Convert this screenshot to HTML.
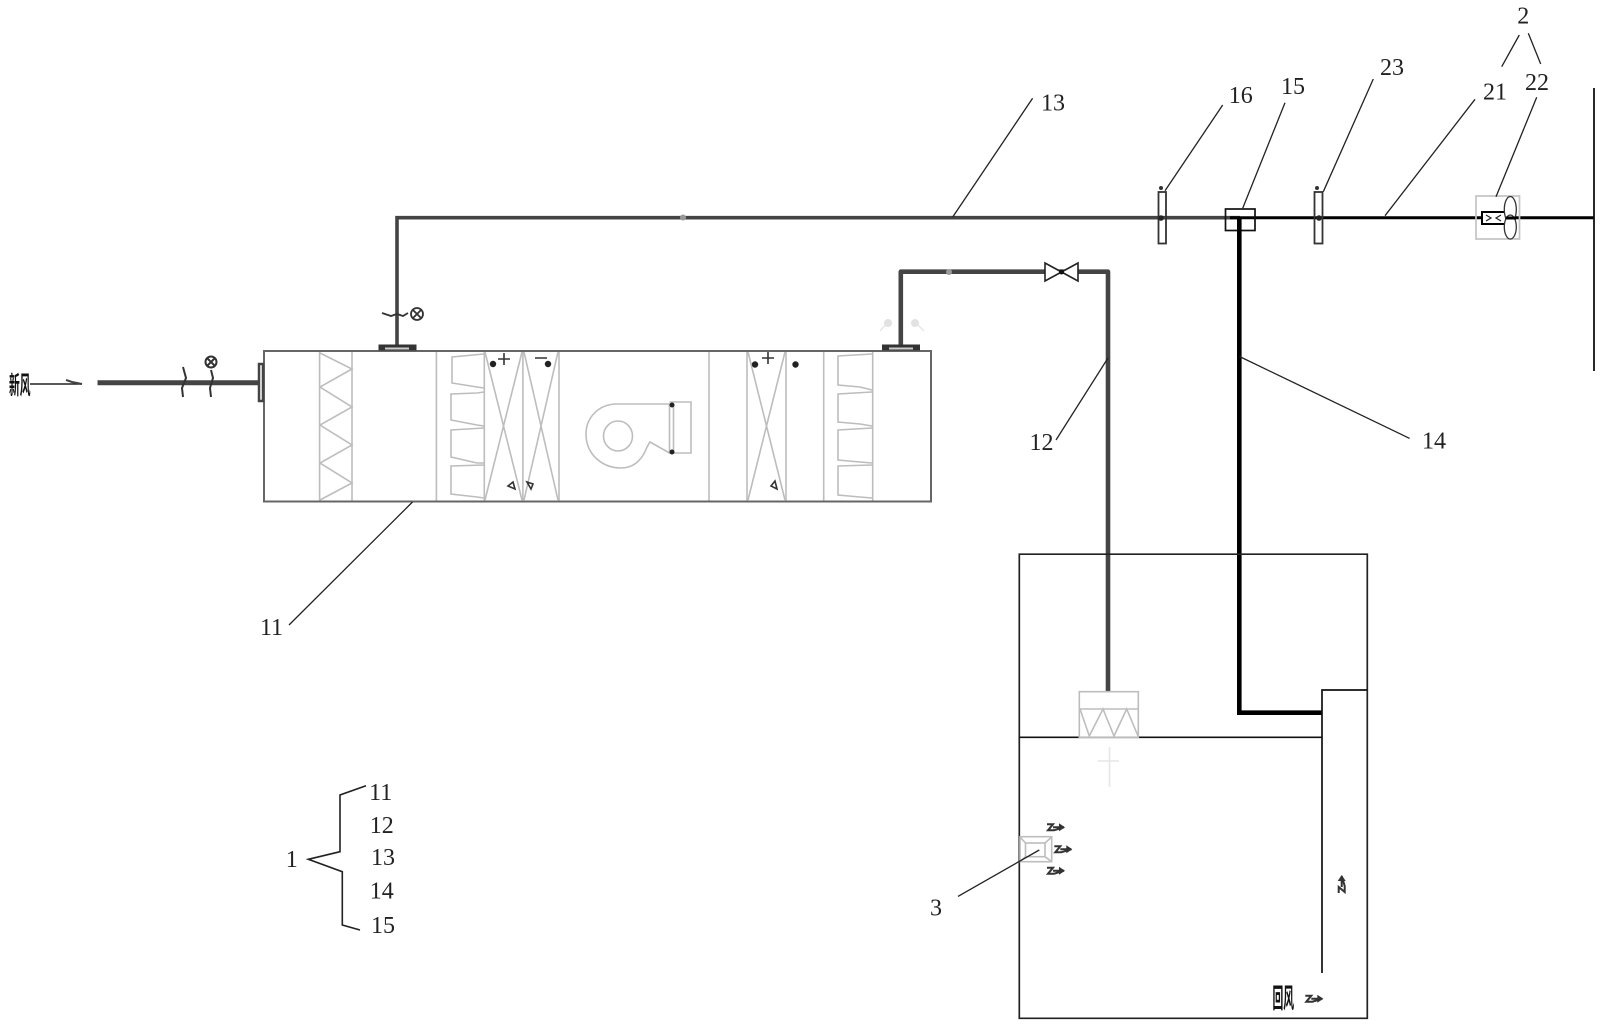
<!DOCTYPE html>
<html><head><meta charset="utf-8"><style>
html,body{margin:0;padding:0;background:#fff;width:1606px;height:1030px;overflow:hidden}
svg{display:block}
.t{font-family:"Liberation Serif",serif;font-size:24px;fill:#222;text-anchor:middle;dominant-baseline:central}
.c{font-family:"Noto Sans CJK SC","WenQuanYi Zen Hei",sans-serif;fill:#111;font-weight:700}
</style></head><body>
<svg width="1606" height="1030" viewBox="0 0 1606 1030" xmlns="http://www.w3.org/2000/svg">
<rect width="1606" height="1030" fill="#fff"/>
<defs>
<g id="ar"><path d="M-9,-3 L-3,-3 L-8,3 L-2,3 L8,0 M-3,0 L8,0" fill="none" stroke="#333" stroke-width="2"/><path d="M3,-4 L9,0 L3,4 Z" fill="#333"/></g>
</defs>
<!-- ghost marks -->
<g fill="none" stroke="#e6e6e6" stroke-width="1.5">
<path d="M880,331 L888,322 M924,331 L915,322"/>
<path d="M1109.5,747 V787 M1098,761 H1119"/>
</g>
<circle cx="888" cy="323" r="4" fill="#e2e2e2"/><circle cx="915" cy="323" r="4" fill="#e2e2e2"/>
<!-- AHU internals -->
<g fill="none" stroke="#bdbdbd" stroke-width="1.6">
<path d="M319.6,351 V501 M352,351 V501 M436.4,351 V501 M484.3,351 V501 M522.9,351 V501 M559,351 V501 M709,351 V501 M747,351 V501 M786,351 V501 M823.7,351 V501 M872.7,351 V501"/>
<path d="M320,353 L352,369 L320,387 L352,407 L320,425 L352,445 L320,463 L352,483 L320,500"/>
<path d="M484,354 L452,357 V383 L477,387 L484,388 M484,392 L477,393 L451,394 V420 L477,425 L484,426 M484,428 L451,430 V457 L477,463 L484,463 M484,465 L451,466 V494 L477,497 L484,498"/>
<path d="M485,352 L522,500 M522,352 L485,500 M524,352 L558,500 M558,352 L524,500 M748,352 L785,500 M785,352 L748,500"/>
<path d="M872,354 L838,356 V385 L860,387 L872,390 M872,392 L838,394 V422 L860,424 L872,426 M872,428 L838,430 V460 L860,462 L872,463 M872,465 L838,466 V495 L860,497 L872,498"/>
<path d="M669.5,404 H615 C598,405 586,418 586,434 C586,455 603,468 621,468 C635,468 643,458 647,447 L650,442 L669.5,453 Z"/>
<ellipse cx="618" cy="436" rx="14.5" ry="15"/>
<path d="M669.5,402 H691 V453 H669.5 M673.5,404 V452"/>
</g>
<!-- AHU frame -->
<rect x="264" y="351" width="667" height="150.5" fill="none" stroke="#666" stroke-width="2"/>
<!-- AHU symbols -->
<g stroke="#333" stroke-width="1.6" fill="none">
<path d="M504,353 V365 M498,359 H510 M535,358 H547 M762,358 H774 M768,352 V364"/>
<path d="M508,486 L513,482 L515,489 Z M527,482 L533,484 L531,489 Z M771,486 L775,481 L777,489 Z"/>
</g>
<g fill="#222">
<circle cx="493" cy="364" r="3.2"/><circle cx="548" cy="364" r="3.2"/><circle cx="755" cy="364.5" r="3.2"/><circle cx="795.5" cy="364.5" r="3.2"/>
<circle cx="672" cy="405" r="2.5"/><circle cx="672" cy="452" r="2.5"/>
</g>
<!-- inlet -->
<path d="M97.5,382.7 H258" stroke="#444" stroke-width="5" fill="none"/>
<path d="M259,364 H263 V401 H259 Z" fill="#fff" stroke="#444" stroke-width="2.5"/>
<g stroke="#333" stroke-width="2" fill="none">
<path d="M183,367 L186,378 L182,388 L183,397 M211,370 L213,378 L210,388 L211,397"/>
<circle cx="211" cy="362" r="5.5"/><path d="M207.5,358.5 L214.5,365.5 M214.5,358.5 L207.5,365.5"/>
<path d="M30,384 H82" stroke="#222" stroke-width="1.5"/>
<path d="M66,380 L72,382 L82,384" stroke="#444"/>
</g>
<text class="c" font-size="25" transform="translate(9,394) scale(.43,1)">新风</text>
<!-- supply pipe 13 -->
<path d="M397,345 V217.7 H1240" fill="none" stroke="#444" stroke-width="3.6"/>
<path d="M1230,217.7 H1594" fill="none" stroke="#000" stroke-width="3"/>
<circle cx="683" cy="217.5" r="3" fill="#999"/>
<rect x="378.5" y="344.5" width="38" height="6" fill="#333"/><rect x="385" y="347.5" width="24" height="2" fill="#ccc"/>
<g stroke="#333" stroke-width="1.8" fill="none">
<path d="M382,313 L391,316 L397,314 L403,316 L408,313"/>
<circle cx="417" cy="314" r="6"/><path d="M413,310 L421,318 M421,310 L413,318"/>
</g>
<!-- pipe 12 -->
<path d="M900.8,345 V271.7 H1108 V692" fill="none" stroke="#444" stroke-width="4.6" stroke-linejoin="round"/>
<circle cx="949" cy="272" r="3" fill="#999"/>
<rect x="882" y="344.5" width="38" height="6" fill="#333"/><rect x="889" y="347.5" width="24" height="2" fill="#ccc"/>
<path d="M1045,263 L1078,281 V263 L1045,281 Z" fill="#fff" stroke="#222" stroke-width="1.6"/>
<circle cx="1061.5" cy="272" r="2.5" fill="#111"/>
<!-- dampers -->
<g fill="none" stroke="#333" stroke-width="1.8">
<rect x="1158.5" y="192" width="7.5" height="51.5"/>
<rect x="1314.5" y="192" width="8" height="51.5"/>
</g>
<circle cx="1161" cy="188" r="2" fill="#333"/><circle cx="1317" cy="188" r="2" fill="#333"/>
<circle cx="1161" cy="218" r="2.8" fill="#222"/><circle cx="1319" cy="218" r="2.8" fill="#222"/>
<!-- 15 box + pipe 14 -->
<rect x="1225.5" y="209" width="29.5" height="21.5" fill="none" stroke="#111" stroke-width="1.7"/>
<path d="M1239.3,217 V712.7 H1322" fill="none" stroke="#000" stroke-width="4.6"/>
<!-- wall -->
<path d="M1594,88 V371" stroke="#111" stroke-width="1.8"/>
<!-- fan 22 -->
<rect x="1476" y="196" width="43.5" height="43" fill="none" stroke="#c4c4c4" stroke-width="1.7"/>
<rect x="1482" y="212" width="24" height="12" fill="#fff" stroke="#000" stroke-width="2"/>
<path d="M1486,215 L1491,218 L1486,221 M1501,215 L1496,218 L1501,221" fill="none" stroke="#222" stroke-width="1.2"/>
<g fill="#fff" stroke="#333" stroke-width="1.3"><ellipse cx="1510.3" cy="209.5" rx="6" ry="13"/><ellipse cx="1510.3" cy="227" rx="6" ry="12"/></g>
<path d="M1506,218 H1516" stroke="#000" stroke-width="3"/>
<!-- room -->
<path d="M1019.3,554.2 H1367.3 V1018.3 H1019.3 Z" fill="none" stroke="#222" stroke-width="1.7"/>
<path d="M1019.3,737.3 H1322 M1322,973 V690 H1367" fill="none" stroke="#111" stroke-width="1.7"/>
<!-- terminal filter -->
<g fill="none" stroke="#bdbdbd" stroke-width="1.6">
<rect x="1079.3" y="691.7" width="59" height="45.5"/>
<path d="M1079.3,709 H1138.3 M1080,709 L1089.3,736 L1103,709 L1114,736 L1126.7,709 L1138,736"/>
<rect x="1020" y="836.7" width="31.7" height="25"/>
<rect x="1025.5" y="843" width="19.5" height="13.7"/>
<path d="M1020,837 L1025.5,843 M1051.7,837 L1045,843 M1020,861.7 L1025.5,856.7 M1051.7,861.7 L1045,856.7"/>
</g>
<!-- air arrows -->
<use href="#ar" x="1056" y="827.3"/>
<use href="#ar" x="1063.3" y="849.3"/>
<use href="#ar" x="1056" y="870.7"/>
<use href="#ar" x="1314.3" y="998.7"/>
<use href="#ar" transform="translate(1341.7,884) rotate(-90)"/>
<text class="c" font-size="27" transform="translate(1272.5,1008) scale(.4,1)">回风</text>
<!-- leaders -->
<g stroke="#222" stroke-width="1.3" fill="none">
<path d="M1519.3,35 L1501.7,66.7 M1528.3,33.3 L1540.7,64"/>
<path d="M1536.7,97.3 L1496,196.7"/>
<path d="M1475,99.3 L1385,215.7"/>
<path d="M1373.3,79 L1323.3,191.7"/>
<path d="M1285,102.7 L1242.7,208.3"/>
<path d="M1222.7,105 L1165,190.7"/>
<path d="M1032.6,98.3 L952.7,217"/>
<path d="M1239.5,356.5 L1409.6,438.4"/>
<path d="M1108,358 L1056,440"/>
<path d="M412.5,502 L289,625"/>
<path d="M1039.3,850 L958,896.4"/>
<path d="M366,785.7 L340,795 V851.7 L308.3,859.3 L342.3,871.7 V925 L360,930" stroke-width="1.6"/>
</g>
<!-- labels -->
<text class="t" x="1523.3" y="16.7">2</text>
<text class="t" x="1537" y="83">22</text>
<text class="t" x="1495" y="92.7">21</text>
<text class="t" x="1392" y="68">23</text>
<text class="t" x="1293" y="87">15</text>
<text class="t" x="1240.7" y="96">16</text>
<text class="t" x="1053" y="103.5">13</text>
<text class="t" x="1434" y="441.5">14</text>
<text class="t" x="1041.5" y="443">12</text>
<text class="t" x="271.5" y="628">11</text>
<text class="t" x="936" y="908.6">3</text>
<text class="t" x="380.7" y="793">11</text>
<text class="t" x="381.7" y="826">12</text>
<text class="t" x="383" y="858">13</text>
<text class="t" x="381.7" y="891.7">14</text>
<text class="t" x="383" y="926">15</text>
<text class="t" x="291.7" y="860">1</text>
</svg>
</body></html>
